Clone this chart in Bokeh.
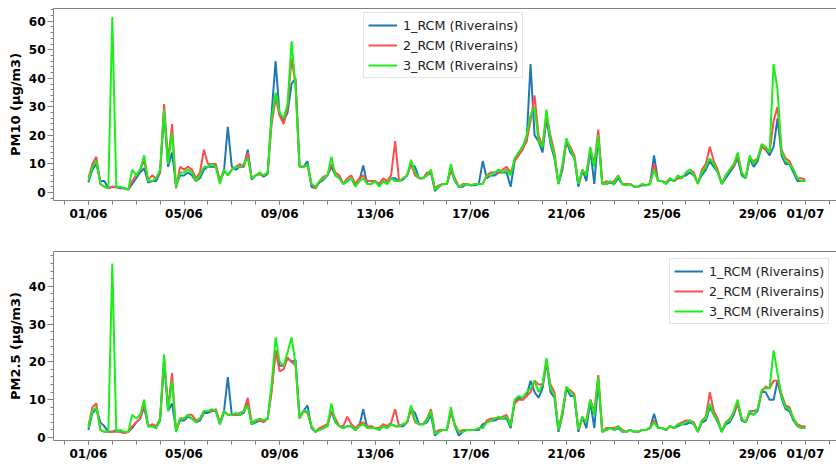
import numpy as np
from bokeh.plotting import figure
from bokeh.models import (Range1d, FixedTicker, SingleIntervalTicker, LinearAxis,
                          Legend, LegendItem)
from bokeh.layouts import column
from bokeh.embed import file_html
from bokeh.resources import INLINE

# ---------------- data ----------------
STEP_HOURS = 4  # one value every 4 h, from 01/06 00:00 to 01/07 00:00
tick_days = [0, 4, 8, 12, 16, 20, 24, 28, 30]
tick_labels = ["01/06", "05/06", "09/06", "13/06", "17/06", "21/06", "25/06", "29/06", "01/07"]
minor_days = list(range(-1, 32))
series_names = ["1_RCM (Riverains)", "2_RCM (Riverains)", "3_RCM (Riverains)"]

pm10_1 = [
    3.5, 8, 10, 4, 4, 1.5,  2, 1.8, 1.5, 1.5, 1, 3,  5, 7, 8.5, 3.5, 4, 4,
    7, 28, 9, 14, 2.5, 6,  6, 7, 6, 4, 5, 8,  9, 9, 9, 4, 7, 23,
    9, 8, 9, 9, 15, 4.5,  6, 6.5, 5.5, 6.5, 28, 46,  27, 25, 28, 38, 40, 9,
    9, 11, 2, 1.5, 3.5, 4.5,  6, 9, 6, 5, 3, 4,  5, 2.5, 4, 9.5, 3, 3,
    4, 2.5, 4, 3, 5, 5,  4, 4.5, 6, 10, 9, 5,  5, 6, 7, 0.5, 2, 3,
    3, 8, 4, 2, 2, 3,  2.5, 2.5, 3, 11, 5, 6,  6, 7, 7, 7, 2, 11,
    14, 16, 18, 45, 20, 18,  14, 26, 17, 12, 3, 8,  18, 14, 12, 2, 8, 4,
    15, 3, 20, 3, 3, 3.5,  3, 5, 3, 2.5, 3, 2,  2, 2.5, 2.5, 3, 13, 4,
    4, 3, 4.5, 4, 5, 5.5,  6, 7, 6, 3.5, 6, 8,  11, 9, 7, 3, 5, 7,
    9, 12, 6, 5, 12, 9,  11, 16, 15, 13, 16, 26,  13, 10, 10, 7, 4, 4,
    4]
pm10_2 = [
    5, 10, 12.5, 3, 2, 1.5,  2, 2, 1.8, 1.5, 1, 4,  6, 8, 11, 4.5, 6, 5,
    7, 31, 11, 24, 1.5, 9,  8, 9, 8, 5, 7, 15,  10, 10, 10, 4, 8, 6,
    8, 9, 10, 9, 14, 5,  6, 6.5, 6, 7, 24, 33,  27, 24, 30, 47, 38, 9,
    9, 9.5, 3, 1.5, 4, 5.5,  6, 10, 7, 6, 3, 5,  6, 3, 5, 6, 4, 4,
    4, 3, 5, 4, 6, 18,  4, 5, 6, 10, 6, 5,  5, 7, 7, 1.5, 2.5, 3,
    3, 8, 5, 2, 3, 3,  2.5, 3, 3, 3, 6, 7,  7, 7, 8, 9, 7, 11,
    13, 15, 18, 25, 34, 20,  16, 27, 20, 14, 3, 9,  18, 16, 13, 3, 7, 7,
    15, 10, 22, 3, 4, 3.5,  4, 6, 3, 3, 3, 2,  2, 3, 2.5, 3, 10, 4,
    4, 3.5, 5, 4, 5, 5,  7, 8, 7, 3, 8, 10,  16, 11, 8, 3, 6, 8,
    9, 13, 7, 5, 12, 11,  12, 16, 15, 14, 25, 30,  15, 12, 11, 8, 5, 5,
    4.5]
pm10_3 = [
    4, 9, 11, 3, 2, 1.5,  61.5, 2, 2, 1.5, 1, 8,  6, 8, 13, 4, 4, 5,
    8, 29, 10, 21, 2, 7,  7, 8, 7, 4, 6, 9,  9, 10, 9, 3, 8, 6,
    8, 9, 9, 10, 12, 5,  6, 7, 6, 7, 26, 35,  28, 26, 31, 53, 37, 9,
    9, 10, 3, 2, 4, 5,  6, 12.5, 6, 5, 3, 4,  5, 2, 4, 5, 3, 3,
    4, 2, 4, 3, 5, 4,  4, 5, 6, 11.5, 7, 5,  5, 6, 8, 1, 2, 3,
    3, 10, 4, 2, 2.5, 3,  2.5, 3, 3, 3, 6, 6,  7, 8, 7, 8, 6, 12,
    14, 16, 20, 27, 30, 18,  16, 29, 18, 13, 3, 10,  19, 15, 12, 3, 8, 6,
    16, 9, 20, 3, 3, 4,  3, 6, 3, 2.5, 3, 2,  2, 3, 2.5, 3, 8, 4,
    4, 3, 5, 4, 6, 5,  7, 8, 6, 3, 7, 9,  12, 10, 7, 3, 6, 8,
    10, 14, 7, 5, 13, 10,  12, 17, 16, 14, 45, 36,  14, 11, 10, 8, 5, 4,
    4]

pm25_1 = [
    2, 6.5, 7.5, 4, 3, 1.5,  1.5, 2, 1.5, 1.2, 1.5, 2.5,  4, 5, 8, 3, 3, 2.5,
    4.5, 20, 7, 9, 2, 4.5,  4.5, 5.5, 5, 4, 4.5, 6.5,  6.5, 7, 7, 3.5, 6.5, 16,
    6, 6, 6, 6.5, 9, 3.5,  4, 4.5, 4.5, 5, 13, 23,  19, 19, 21, 20, 20.5, 5.5,
    7, 8.5, 2.5, 1.5, 2, 2.5,  3, 7, 4, 3, 2.5, 3,  3, 2, 3, 7.5, 2.5, 2.5,
    2.5, 2, 3, 2.5, 3.5, 3,  3, 3, 4, 7.5, 6.5, 3.5,  3.5, 4, 6, 0.5, 1.5, 2,
    2, 7, 3, 0.5, 1.5, 2,  2, 2, 2, 3.5, 4, 4.5,  4.5, 5, 5, 5, 2.5, 9.5,
    10.5, 10, 11, 15, 12, 10.5,  13, 20, 12, 10.5, 1.5, 6,  13, 11, 11, 1.5, 5.5, 2.5,
    9.5, 2.5, 15, 1.5, 2, 2.5,  2, 2.5, 1.5, 1.5, 2, 1.5,  1.5, 2, 2, 2.5, 6.3, 2.5,
    2.5, 2, 3, 2.5, 3, 3.5,  3.5, 4, 3.5, 1.5, 4, 4.5,  8, 6, 4, 1.5, 3.5, 4,
    6, 9, 4.5, 4, 6.5, 6,  7, 12, 12, 10, 10, 15,  10.5, 7.5, 7, 4.5, 3, 2.5,
    2.5]
pm25_2 = [
    3, 8, 9, 2, 1.5, 1.5,  1.5, 1.5, 1.5, 1.2, 1.5, 3,  4, 5, 9, 3, 3.5, 3,
    5, 21, 8, 17, 1.5, 5,  5, 6, 6, 4.5, 5, 7,  7, 7, 7.5, 4, 7, 6,
    6, 6, 6.5, 7, 10.5, 4,  4.5, 4.5, 4, 5, 12, 23,  17.5, 18, 21, 20, 19, 5,
    7, 6.5, 3, 1.5, 2.5, 3,  3.5, 7, 5, 3, 3, 5.5,  3.5, 2.5, 3.5, 4, 3, 3,
    2.5, 2.5, 3.5, 3, 4, 7.5,  3, 3.5, 4, 7.5, 4, 3.5,  3.5, 5, 7.5, 1.2, 2, 2,
    2, 7, 3.5, 1.5, 2, 2,  2, 2, 2.5, 2.5, 4.5, 5,  5, 5, 5.5, 6, 3.5, 9,
    10, 10, 11, 12, 15, 14,  14, 20, 14, 12, 2, 6.5,  13, 12.5, 11.5, 2, 5, 4.5,
    10, 7, 16.5, 1.5, 2.5, 2.5,  2.5, 3, 2, 1.5, 2, 1.5,  1.5, 2, 2, 2.5, 4.5, 2.5,
    2.5, 2, 3, 2.5, 3.5, 4,  4.5, 4.5, 4, 1.5, 4.5, 5.5,  12, 7, 5, 1.5, 4, 5,
    6.5, 9, 5, 4, 7, 7,  7.5, 12, 13.5, 13, 15, 15,  11.5, 8.5, 8, 5, 3.5, 3,
    3]
pm25_3 = [
    2.5, 7, 8, 2, 1.5, 1.5,  46, 1.5, 2, 1.5, 1.5, 6,  5, 6, 10, 3, 3, 2.5,
    5, 22, 7, 15, 1.5, 5,  5, 6, 5, 4, 5, 7,  7, 7.5, 7, 3.5, 7, 6,
    6, 6.5, 6, 7, 8.5, 3.5,  4.5, 5, 4.5, 5, 14, 26.5,  20, 19, 22.5, 26.5, 19.5, 5,
    7, 7, 3, 1.5, 2, 2.5,  3, 9, 4, 3, 2.5, 3,  3, 2, 3, 3.5, 2.5, 2.5,
    2.5, 2, 3, 2.5, 3.5, 3,  3, 3.5, 4, 8.5, 4.5, 3.5,  3.5, 4.5, 7, 1, 1.5, 2,
    2, 8, 3, 1.5, 1.5, 2,  2, 2, 2.5, 2.5, 4, 4.5,  5, 5.5, 5, 5.5, 3, 10,
    11, 10.5, 12, 13, 15, 12,  14, 21, 13, 11, 2, 7,  13.5, 12, 11, 2, 5.5, 4,
    10, 6, 16, 1.5, 2, 2.5,  2, 3, 1.5, 1.5, 2, 1.5,  1.5, 2, 2, 2.5, 4, 2.5,
    2.5, 2, 3, 2.5, 3.5, 3.5,  4, 4.5, 3.5, 1.5, 4.5, 5,  9, 6, 4.5, 1.5, 4, 4.5,
    7, 10, 5, 4, 7, 6,  7.5, 12.5, 13, 13, 23, 17,  11, 8, 7.5, 5, 3, 2.5,
    2.5]

days = np.arange(len(pm10_1)) * STEP_HOURS / 24.0

colors = ["#1f77b4", "#ff4d4d", "#1aef1a"]
GRAY = "#808080"
FONT = "DejaVu Sans"


def make_fig(height, y_start, y_end, ylabel, series, min_top, min_bottom, legend_xy):
    p = figure(width=836, height=height, output_backend="svg", toolbar_location=None,
               x_range=Range1d(-1.46, 31.3), y_range=Range1d(y_start, y_end),
               min_border_left=53, min_border_right=0,
               min_border_top=min_top, min_border_bottom=min_bottom)
    p.outline_line_color = None
    p.grid.visible = False
    p.background_fill_color = "white"

    xa = p.xaxis[0]
    xa.ticker = FixedTicker(ticks=tick_days, minor_ticks=minor_days)
    xa.major_label_overrides = {d: lab for d, lab in zip(tick_days, tick_labels)}
    xa.major_label_text_font = FONT
    xa.major_label_text_font_style = "bold"
    xa.major_label_text_font_size = "12px"
    xa.major_label_text_color = "black"
    xa.major_label_standoff = 2
    xa.axis_line_color = GRAY
    xa.major_tick_line_color = GRAY
    xa.minor_tick_line_color = GRAY
    xa.major_tick_out = 4
    xa.major_tick_in = 0
    xa.minor_tick_out = 4
    xa.minor_tick_in = 0

    ya = p.yaxis[0]
    ya.ticker = SingleIntervalTicker(interval=10, num_minor_ticks=5)
    ya.major_label_text_font = FONT
    ya.major_label_text_font_style = "bold"
    ya.major_label_text_font_size = "12px"
    ya.major_label_text_color = "black"
    ya.major_label_standoff = 2
    ya.axis_label = ylabel
    ya.axis_label_text_font = FONT
    ya.axis_label_text_font_style = "bold"
    ya.axis_label_text_font_size = "13px"
    ya.axis_label_text_color = "black"
    ya.axis_label_standoff = 3
    ya.axis_line_color = GRAY
    ya.major_tick_line_color = GRAY
    ya.minor_tick_line_color = GRAY
    ya.major_tick_out = 6
    ya.major_tick_in = 0
    ya.minor_tick_out = 3
    ya.minor_tick_in = 0

    top = LinearAxis(ticker=FixedTicker(ticks=[]), major_label_text_font_size="0px",
                     major_tick_out=0, major_tick_in=0, minor_tick_out=0, minor_tick_in=0,
                     major_label_standoff=0, axis_line_color=GRAY)
    p.add_layout(top, "above")

    items = []
    for vals, col, name in zip(series, colors, series_names):
        r = p.line(days, vals, line_color=col, line_width=2.0)
        items.append(LegendItem(label=name, renderers=[r]))

    leg = Legend(items=items, location=legend_xy,
                 label_text_font=FONT, label_text_font_size="12.7px",
                 label_text_color="#222222",
                 glyph_width=29, glyph_height=16, label_height=16,
                 label_standoff=6, padding=4, spacing=4, margin=0,
                 border_line_color="#cccccc", border_line_width=1,
                 background_fill_color="white", background_fill_alpha=0.8)
    p.add_layout(leg)
    return p


p1 = make_fig(243, -2.8, 64.45, "PM10 (µg/m3)", [pm10_1, pm10_2, pm10_3],
              8, 43, (310, 122))
p2 = make_fig(221, -0.79, 49.18, "PM2.5 (µg/m3)", [pm25_1, pm25_2, pm25_3],
              8, 24, (616, 116))

layout = column(p1, p2, spacing=0)
open("out.html", "w").write(file_html(layout, INLINE))
